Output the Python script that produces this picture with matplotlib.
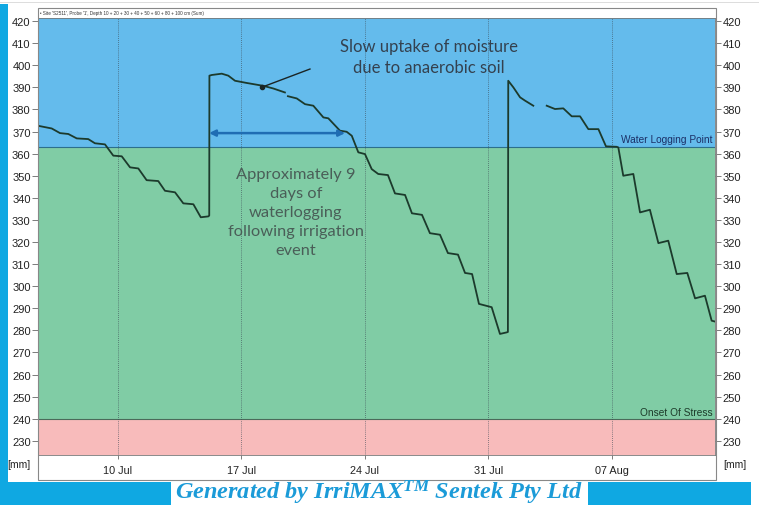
import numpy as np
import matplotlib
matplotlib.use("Agg")
import matplotlib.pyplot as plt
from matplotlib.patches import Rectangle

plt.rcParams["font.family"] = ["Liberation Sans", "DejaVu Sans"]
plt.rcParams["mathtext.fontset"] = "custom"
plt.rcParams["mathtext.it"] = "Liberation Serif:italic:bold"
plt.rcParams["mathtext.rm"] = "Liberation Serif:italic:bold"

# day of July (32 = 01 Aug), water content [mm]
days = [5.50, 6.26, 6.73, 7.20, 7.68, 8.33, 8.71, 9.28, 9.75, 10.23,
        10.70, 11.17, 11.64, 12.30, 12.68, 13.25, 13.72, 14.29, 14.71, 15.14,
        15.19, 15.20, 15.33, 15.90, 16.27, 16.65, 17.31, 18.25, 18.82, 19.48,
        19.55, 19.65, 20.15, 20.62, 21.09, 21.66, 21.94, 22.60, 22.98, 23.27,
        23.64, 24.02, 24.40, 24.77, 25.32, 25.72, 26.29, 26.68, 27.25, 27.70,
        28.27, 28.72, 29.29, 29.69, 30.09, 30.48, 31.20, 31.67, 32.05, 32.12,
        32.14, 32.43, 32.81, 33.09, 33.56, 34.00, 34.32, 34.79, 35.26, 35.74,
        36.21, 36.68, 37.25, 37.68, 38.29, 38.38, 38.66, 39.23, 39.61, 40.17,
        40.65, 41.21, 41.69, 42.29, 42.73, 43.29, 43.67, 43.86]
water = [372.6, 371.4, 369.3, 368.9, 366.9, 366.6, 364.7, 364.2, 359.1, 358.8,
         353.8, 353.3, 348.0, 347.6, 343.2, 342.5, 337.5, 337.1, 331.2, 331.6,
         332.0, 395.3, 395.6, 396.2, 395.3, 393.0, 392.0, 390.7, 389.5, 387.7,
         np.nan, 386.0, 385.0, 382.4, 381.7, 376.4, 376.0, 370.4, 369.9, 368.1,
         360.6, 359.8, 353.0, 350.8, 350.3, 342.0, 341.3, 333.0, 332.3, 324.0,
         323.3, 315.0, 314.3, 306.0, 305.5, 292.0, 290.5, 278.4, 279.1, 279.3,
         393.0, 390.0, 385.5, 384.0, 381.7, np.nan, 381.7, 380.2, 380.5, 376.9,
         376.9, 371.1, 371.1, 363.3, 363.1, 362.8, 350.0, 350.8, 333.4, 334.6,
         319.5, 320.6, 305.5, 306.0, 294.5, 295.7, 284.4, 284.0]

tick_days = [10, 17, 24, 31, 38]
tick_labels = ["10 Jul", "17 Jul", "24 Jul", "31 Jul", "07 Aug"]
y_ticks = list(range(230, 421, 10))

water_logging_point = 363
onset_of_stress = 240

W, H = 759, 506
fig = plt.figure(figsize=(W / 100, H / 100), dpi=100)
fig.patch.set_facecolor("white")

def px(x0, y0, x1, y1):
    # pixel box -> figure fraction rectangle
    return (x0 / W, 1 - y1 / H, (x1 - x0) / W, (y1 - y0) / H)

blue = "#0fa8e2"
for box in [(0, 5, 8, 506), (0, 483, 171, 506), (588, 483, 751, 506)]:
    x, y, w, h = px(*box)
    fig.patches.append(Rectangle((x, y), w, h, transform=fig.transFigure,
                                 facecolor=blue, edgecolor="none", zorder=5))
x, y, w, h = px(0, 3, 759, 4)
fig.patches.append(Rectangle((x, y), w, h, transform=fig.transFigure,
                             facecolor="#dddddd", edgecolor="none", zorder=5))

# outer frame + header strip
x, y, w, h = px(38, 9, 716, 481)
fig.patches.append(Rectangle((x, y), w, h, transform=fig.transFigure,
                             facecolor="none", edgecolor="#888888", lw=0.8, zorder=1))
fig.text(40 / W, 1 - 14 / H,
         "\u2022 Site 'S2511', Probe '1', Depth 10 + 20 + 30 + 40 + 50 + 60 + 80 + 100 cm (Sum)",
         fontsize=3.3, color="#333333", va="center", ha="left")

ax = fig.add_axes(px(38.3, 19, 715, 456))
ax.set_xlim(5.5, 43.86)
ax.set_ylim(223.6, 421.4)

ax.axhspan(water_logging_point, 430, color="#64bbec", lw=0)
ax.axhspan(onset_of_stress, water_logging_point, color="#80cca5", lw=0)
ax.axhspan(200, onset_of_stress, color="#f8bbbb", lw=0)
ax.axhline(water_logging_point, color="#2c6f8c", lw=0.8)
ax.axhline(onset_of_stress, color="#4b6a5a", lw=0.8)

for d in tick_days:
    ax.axvline(d, color="#3b4a55", lw=0.6, ls=(0, (1, 1.5)), alpha=0.8)

ax.plot(days, water, color="#1c3a2c", lw=1.3)

ax.set_xticks(tick_days)
ax.set_xticklabels(tick_labels)
ax.set_yticks(y_ticks)
ax.tick_params(axis="y", direction="out", length=4, width=0.6, color="#666666",
               labelsize=8, left=True, right=True, labelleft=True, labelright=True,
               pad=1.5, labelcolor="#222222")
ax.tick_params(axis="x", direction="out", length=3, width=0.6, color="#666666",
               labelsize=7.8, pad=4, labelcolor="#222222")
for s in ax.spines.values():
    s.set_color("#777777")
    s.set_linewidth(0.6)

ax.text(43.7, 364.2, "Water Logging Point", ha="right", va="bottom",
        fontsize=7.3, color="#1b2f66")
ax.text(43.7, 240.8, "Onset Of Stress", ha="right", va="bottom",
        fontsize=7.3, color="#1d3b2a")

# annotations
ax.text(27.65, 404.0, "Slow uptake of moisture\ndue to anaerobic soil", ha="center",
        va="center", fontsize=12, color="#34414f", family="Lato", linespacing=1.35)
ax.plot([20.9, 18.18], [398.3, 390.1], color="#1a2424", lw=1.0)
ax.plot([18.18], [390.1], "o", color="#1a2424", ms=3)
ax.annotate("", xy=(15.18, 369.3), xytext=(22.89, 369.3),
            arrowprops=dict(arrowstyle="<|-|>", color="#1f6db3", lw=1.8,
                            mutation_scale=9, shrinkA=0, shrinkB=0))
ax.text(20.1, 333.5, "Approximately 9\ndays of\nwaterlogging\nfollowing irrigation\nevent",
        ha="center", va="center", fontsize=11.8, color="#4a5e58", family="Lato",
        linespacing=1.45)

fig.text(30 / W, 1 - 465 / H, "[mm]", ha="right", va="center", fontsize=7.5,
         color="#222222", zorder=2)
fig.text(723 / W, 1 - 465 / H, "[mm]", ha="left", va="center", fontsize=7.5,
         color="#222222", zorder=2)

fig.text(379 / W, 1 - 500 / H, r"Generated by IrriMAX$^{\mathit{TM}}$ Sentek Pty Ltd",
         ha="center", va="baseline", fontsize=17.5, color="#1b9bd8",
         family="Liberation Serif", style="italic", weight="bold", zorder=6)

fig.savefig("out.png", dpi=100)
